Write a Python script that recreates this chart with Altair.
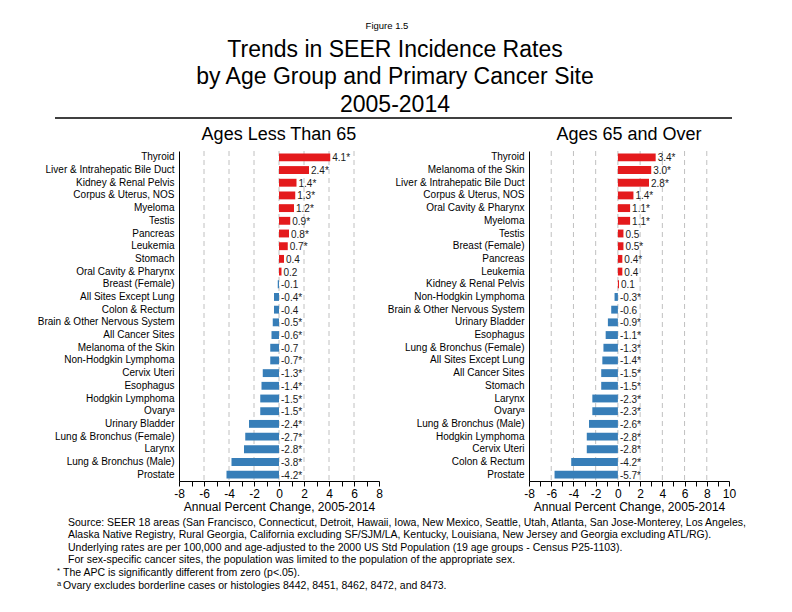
import altair as alt
import pandas as pd

FONT = "Liberation Sans"
RED = "#e41a1c"
BLUE = "#377eb8"

left_sites = ["Thyroid", "Liver & Intrahepatic Bile Duct", "Kidney & Renal Pelvis", "Corpus & Uterus, NOS",
              "Myeloma", "Testis", "Pancreas", "Leukemia", "Stomach", "Oral Cavity & Pharynx",
              "Breast (Female)", "All Sites Except Lung", "Colon & Rectum", "Brain & Other Nervous System",
              "All Cancer Sites", "Melanoma of the Skin", "Non-Hodgkin Lymphoma", "Cervix Uteri",
              "Esophagus", "Hodgkin Lymphoma", "Ovary\u1d43\u00a0", "Urinary Bladder",
              "Lung & Bronchus (Female)", "Larynx", "Lung & Bronchus (Male)", "Prostate"]
left_apc = [4.1, 2.4, 1.4, 1.3, 1.2, 0.9, 0.8, 0.7, 0.4, 0.2, -0.1, -0.4, -0.4, -0.5, -0.6, -0.7, -0.7,
            -1.3, -1.4, -1.5, -1.5, -2.4, -2.7, -2.8, -3.8, -4.2]
left_sig = [1, 1, 1, 1, 1, 1, 1, 1, 0, 0, 0, 1, 0, 1, 1, 0, 1, 1, 1, 1, 1, 1, 1, 1, 1, 1]

right_sites = ["Thyroid", "Melanoma of the Skin", "Liver & Intrahepatic Bile Duct", "Corpus & Uterus, NOS",
               "Oral Cavity & Pharynx", "Myeloma", "Testis", "Breast (Female)", "Pancreas", "Leukemia",
               "Kidney & Renal Pelvis", "Non-Hodgkin Lymphoma", "Brain & Other Nervous System",
               "Urinary Bladder", "Esophagus", "Lung & Bronchus (Female)", "All Sites Except Lung",
               "All Cancer Sites", "Stomach", "Larynx", "Ovary\u1d43\u00a0", "Lung & Bronchus (Male)",
               "Hodgkin Lymphoma", "Cervix Uteri", "Colon & Rectum", "Prostate"]
right_apc = [3.4, 3.0, 2.8, 1.4, 1.1, 1.1, 0.5, 0.5, 0.4, 0.4, 0.1, -0.3, -0.6, -0.9, -1.1, -1.3, -1.4,
             -1.5, -1.5, -2.3, -2.3, -2.6, -2.8, -2.8, -4.2, -5.7]
right_sig = [1, 1, 1, 1, 1, 1, 0, 1, 1, 0, 0, 1, 0, 1, 1, 1, 1, 1, 1, 1, 1, 1, 1, 1, 1, 1]

left_grid = [-6, -4, -2, 0, 2, 4, 6]
right_grid = [-6, -4, -2, 0, 2, 4, 6, 8]
left_domain = [-8, 8]
right_domain = [-8, 10]

title_lines = ["Trends in SEER Incidence Rates", "by Age Group and Primary Cancer Site", "2005-2014"]
foot_lines = [
    "Source: SEER 18 areas (San Francisco, Connecticut, Detroit, Hawaii, Iowa, New Mexico, Seattle, Utah, Atlanta, San Jose-Monterey, Los Angeles,",
    "Alaska Native Registry, Rural Georgia, California excluding SF/SJM/LA, Kentucky, Louisiana, New Jersey and Georgia excluding ATL/RG).",
    "Underlying rates are per 100,000 and age-adjusted to the 2000 US Std Population (19 age groups - Census P25-1103).",
    "For sex-specific cancer sites, the population was limited to the population of the appropriate sex.",
]
note_marks = ["*", "a"]
note_lines = ["The APC is significantly different from zero (p<.05).",
              "Ovary excludes borderline cases or histologies 8442, 8451, 8462, 8472, and 8473."]

XTITLE = "Annual Percent Change, 2005-2014"
W, H = 200, 330
one = pd.DataFrame({"k": [0]})


def frame(sites, apc, sig):
    return pd.DataFrame({
        "site": sites,
        "apc": apc,
        "pos": [max(v, 0) for v in apc],
        "label": [f"{v:.1f}" + ("*" if s else "") for v, s in zip(apc, sig)],
    })


def txt(text, x, y, size, align="center", baseline="alphabetic", color="black"):
    return alt.Chart(one).mark_text(text=text, fontSize=size, align=align, baseline=baseline,
                                    font=FONT, color=color).encode(x=alt.value(x), y=alt.value(y))


def panel(sites, apc, sig, domain, grid, title):
    df = frame(sites, apc, sig)
    lo, hi = domain
    xscale = alt.Scale(domain=domain, nice=False, zero=True)
    yscale = alt.Scale(paddingInner=0.38, paddingOuter=0.19)
    xaxis = alt.Axis(values=list(range(lo, hi + 1)),
                     labelExpr="datum.value % 2 == 0 ? '' + datum.value : ''",
                     tickSize=5, labelPadding=2, titlePadding=2, labelFontSize=12, titleFontSize=12,
                     labelFlush=False, labelOverlap=False, grid=False)
    yaxis = alt.Axis(title=None, ticks=False, tickSize=0, labelPadding=5, labelFontSize=10,
                     labelLimit=300)
    g = alt.Chart(pd.DataFrame({"g": grid})).mark_rule(
        color="#c0c0c0", strokeDash=[5, 4], strokeWidth=1
    ).encode(x=alt.X("g:Q", scale=xscale, title=XTITLE, axis=xaxis))
    bars = alt.Chart(df).mark_bar().encode(
        x=alt.X("apc:Q", scale=xscale, title=XTITLE, axis=xaxis),
        y=alt.Y("site:N", sort=sites, scale=yscale, axis=yaxis),
        color=alt.condition(alt.datum.apc > 0, alt.value(RED), alt.value(BLUE)),
    )
    labels = alt.Chart(df).mark_text(align="left", baseline="middle", dx=2, dy=1, fontSize=10,
                                     font=FONT, color="#1a1a1a").encode(
        x=alt.X("pos:Q", scale=xscale, title=XTITLE, axis=xaxis),
        y=alt.Y("site:N", sort=sites, scale=yscale, axis=yaxis),
        text="label:N",
    )
    head = txt(title, W / 2, -11, 18)
    return [g, bars, labels, head]


left_layers = panel(left_sites, left_apc, left_sig, left_domain, left_grid, "Ages Less Than 65")
right_layers = panel(right_sites, right_apc, right_sig, right_domain, right_grid, "Ages 65 and Over")

extra = [txt("Figure 1.5", 208, -122, 9.5)]
for i, t in enumerate(title_lines):
    extra.append(txt(t, 216, -94 + i * 27.3, 23))
extra.append(alt.Chart(one).mark_rule(color="black", strokeWidth=1.5).encode(
    x=alt.value(-124), x2=alt.value(553), y=alt.value(-33)))
for i, t in enumerate(foot_lines):
    extra.append(txt(t, -111, 371.5 + i * 12.6, 10.5, align="left", baseline="middle"))
for i, (m, t) in enumerate(zip(note_marks, note_lines)):
    y = 371.5 + (len(foot_lines) + i) * 12.6
    extra.append(txt(m, -122, y - 2, 7.5, align="left", baseline="middle"))
    extra.append(txt(t, -116, y, 10.5, align="left", baseline="middle"))
# invisible anchor fixing the top-left corner of the drawing
extra.append(alt.Chart(one).mark_rule(strokeOpacity=0, opacity=0).encode(
    x=alt.value(-171), x2=alt.value(-170), y=alt.value(-143)))

left = alt.layer(*left_layers, *extra).properties(width=W, height=H)
right = alt.layer(*right_layers).properties(width=W, height=H)

chart = alt.hconcat(left, right, spacing=150, bounds="flush").properties(
    padding=0
).configure_view(stroke=None).configure_axis(
    domainColor="black", tickColor="black", labelColor="black", titleColor="black",
    labelFont=FONT, titleFont=FONT, titleFontWeight="normal", domainWidth=1
).configure_text(font=FONT)

chart.save("out.html", embed_options={"renderer": "svg", "actions": False})
